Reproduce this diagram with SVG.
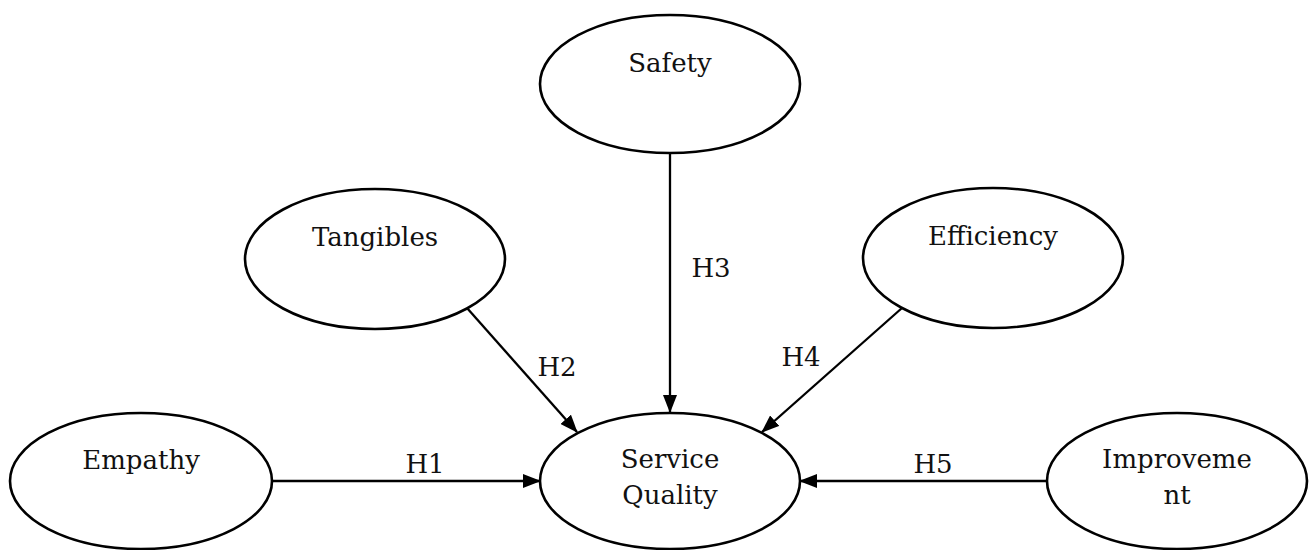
<svg xmlns="http://www.w3.org/2000/svg" width="1310" height="550" viewBox="0 0 1310 550">
<style>
.node ellipse{fill:#fff;stroke:#000;stroke-width:2.6}
text{font-family:"DejaVu Serif","Liberation Serif",serif;font-size:26px;fill:#111;text-anchor:middle}
.edges line{stroke:#000;stroke-width:2.3;marker-end:url(#ah)}
</style>
<defs>
<marker id="ah" markerWidth="18" markerHeight="14" refX="17" refY="7" orient="auto" markerUnits="userSpaceOnUse">
<path d="M0,0 L18,7 L0,14 Z" fill="#000"/>
</marker>
</defs>
<g id="safety" class="node"><ellipse cx="670" cy="84" rx="130" ry="69"/><text x="670" y="72">Safety</text></g>
<g id="tangibles" class="node"><ellipse cx="375" cy="259" rx="130" ry="70"/><text x="375" y="246">Tangibles</text></g>
<g id="efficiency" class="node"><ellipse cx="993" cy="258" rx="130" ry="70"/><text x="993" y="245">Efficiency</text></g>
<g id="empathy" class="node"><ellipse cx="141" cy="481" rx="131" ry="68"/><text x="141" y="469">Empathy</text></g>
<g id="service-quality" class="node"><ellipse cx="670" cy="481" rx="130" ry="68"/><text x="670" y="468">Service</text><text x="670" y="504">Quality</text></g>
<g id="improvement" class="node"><ellipse cx="1177" cy="481" rx="130" ry="68"/><text x="1177" y="468">Improveme</text><text x="1177" y="504">nt</text></g>
<g id="connectors" class="edges">
<line x1="272" y1="481" x2="540" y2="481"/>
<line x1="467" y1="308" x2="577" y2="432"/>
<line x1="670" y1="153" x2="670" y2="412"/>
<line x1="902" y1="308" x2="762" y2="432"/>
<line x1="1047" y1="481" x2="800" y2="481"/>
<text x="425" y="473">H1</text>
<text x="557" y="376">H2</text>
<text x="711" y="277">H3</text>
<text x="801" y="366">H4</text>
<text x="933" y="473">H5</text>
</g>
</svg>
